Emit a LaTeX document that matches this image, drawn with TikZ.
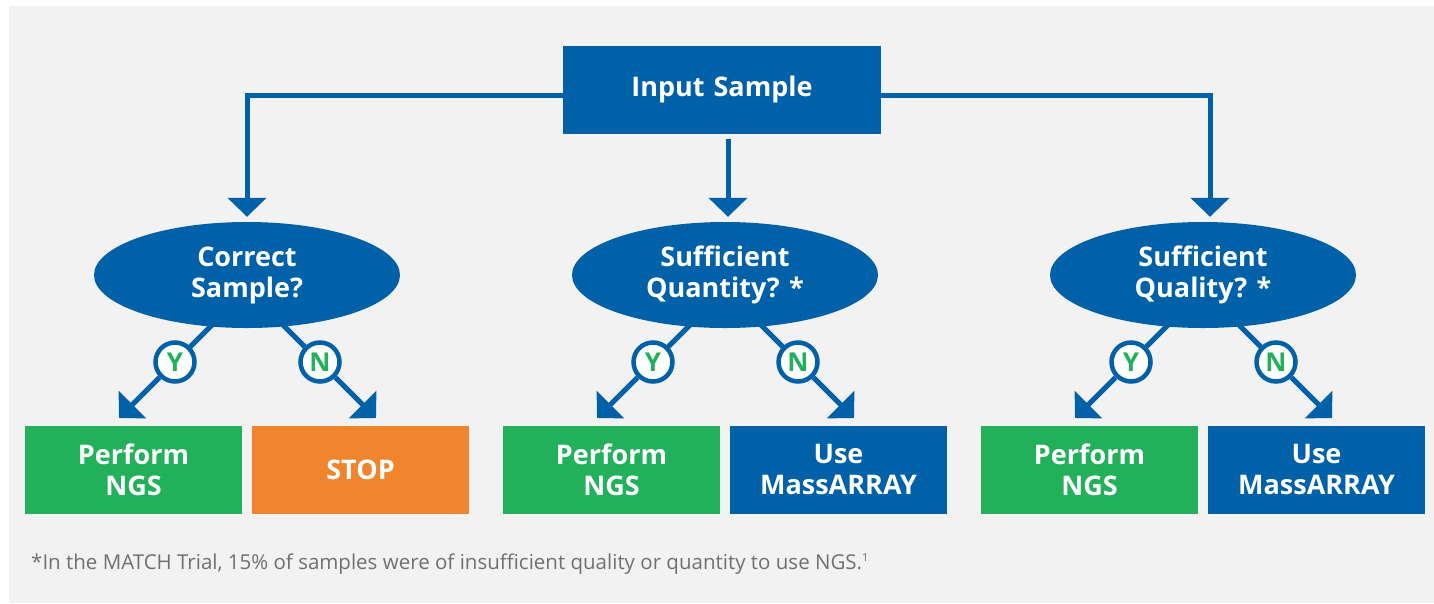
\documentclass[tikz,border=0pt]{standalone}
\usepackage{fontspec}
\setmainfont{Open Sans}
\usetikzlibrary{calc,shapes.geometric,arrows.meta}
\definecolor{matchblue}{RGB}{0,97,168}
\definecolor{matchgreen}{RGB}{34,176,90}
\definecolor{matchorange}{RGB}{240,133,45}
\definecolor{panelgray}{RGB}{242,242,242}
\definecolor{notegray}{RGB}{112,112,112}

\begin{document}
\begin{tikzpicture}[x=1pt, y=-1pt,
				boxnode/.style=		{rectangle, inner sep=0pt, minimum height=88pt, text width=217pt, align=center, text=white, font=\bfseries\fontsize{27}{31}\selectfont},
				inputnode/.style=	{boxnode, fill=matchblue, text width=318pt},
				ngsnode/.style=		{boxnode, fill=matchgreen},
				stopnode/.style=	{boxnode, fill=matchorange},
				arraynode/.style=	{boxnode, fill=matchblue},
				checknode/.style=	{ellipse, inner sep=0pt, minimum width=306pt, minimum height=106pt, align=center, fill=matchblue, text=white, font=\bfseries\fontsize{27}{31}\selectfont},
				answernode/.style=	{circle, inner sep=0pt, minimum size=39pt, line width=4.5pt, draw=matchblue, fill=white, text=matchgreen, font=\bfseries\fontsize{26}{26}\selectfont},
				link/.style=		{line width=5pt, draw=matchblue},
				signal/.style=		{link, arrows={-{Triangle[length=19pt,width=38pt]}}}]
	\def\groupdist{478}
	\def\rowcheck{275}
	\def\rowanswer{362}
	\def\rowresult{469.5}

	\useasboundingbox (0,0) rectangle (1434,603);
	\fill[panelgray] (9,6) rectangle (1434,603);

	\node[inputnode] (input) at (722,89.5) {Input Sample};

	\foreach \i/\txt in {1/{Correct\\Sample?}, 2/{Sufficient\\Quantity? *}, 3/{Sufficient\\Quality? *}}
		\node[checknode] (check\i) at ({247+(\i-1)*\groupdist},\rowcheck) {\txt};

	\foreach \i/\kind/\txt in {1/stopnode/{STOP}, 2/arraynode/{Use\\MassARRAY}, 3/arraynode/{Use\\MassARRAY}} {
		\node[ngsnode] (ngs\i) at ($(check\i) + (-113.5,\rowresult-\rowcheck)$) {Perform\\NGS};
		\node[\kind] (other\i) at ($(check\i) + (113.5,\rowresult-\rowcheck)$) {\txt};
	}

	% yes / no branches
	\foreach \i in {1,2,3} {
		\coordinate (ytop\i) at ($(check\i) + (-34,49)$);
		\coordinate (ntop\i) at ($(check\i) + (35,49)$);
		\coordinate (ytip\i) at ($(check\i) + (-128,143)$);
		\coordinate (ntip\i) at ($(check\i) + (129,143)$);
		\draw[link] (ytop\i) -- ($(check\i) + (-72,\rowanswer-\rowcheck)$);
		\draw[link] (ntop\i) -- ($(check\i) + (73,\rowanswer-\rowcheck)$);
		\node[answernode] (yes\i) at ($(check\i) + (-72,\rowanswer-\rowcheck)$) {Y};
		\node[answernode] (no\i) at ($(check\i) + (73,\rowanswer-\rowcheck)$) {N};
		\draw[signal] (yes\i) -- (ytip\i);
		\draw[signal] (no\i) -- (ntip\i);
	}

	\draw[signal] ([yshift=-6pt]input.west) -| ([yshift=5pt]check1.north);
	\draw[signal] ([yshift=-6pt]input.east) -| ([xshift=7pt,yshift=5pt]check3.north);
	\draw[signal] ([xshift=6pt,yshift=-5pt]input.south) -- ([xshift=3pt,yshift=5pt]check2.north);

	\node[anchor=base west, inner sep=0pt, text=notegray, font=\fontsize{20.5}{24}\selectfont] (note) at (31,569) {*In the MATCH Trial, 15\% of samples were of insufficient quality or quantity to use NGS.\textsuperscript{\fontsize{11}{11}\selectfont 1}};
\end{tikzpicture}
\end{document}
